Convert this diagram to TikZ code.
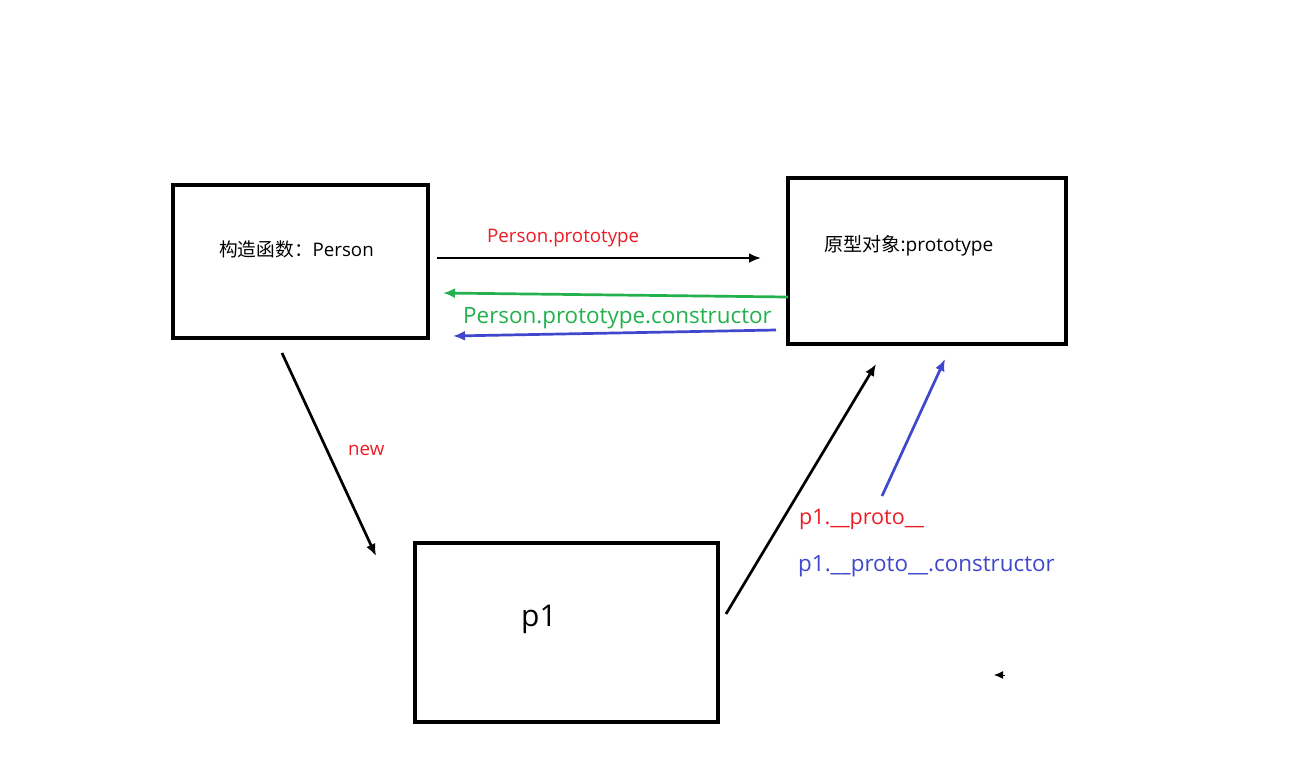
\documentclass[tikz,border=0pt]{standalone}
\usepackage{fontspec}
\setmainfont{Open Sans}
\newfontfamily\cjk{Noto Sans CJK SC}
\usetikzlibrary{positioning,arrows.meta,calc}

\definecolor{pred}{RGB}{237,28,36}
\definecolor{pgreen}{RGB}{34,177,76}
\definecolor{pblue}{RGB}{63,72,204}

\tikzset{
  objbox/.style={draw, line width=4pt, inner sep=0pt},
  link/.style={line width=2.7pt, -{Latex[length=12pt,width=10pt]}},
  smalltxt/.style={font=\fontsize{18.7}{22}\selectfont, inner sep=0pt, anchor=west},
  bigtxt/.style={font=\fontsize{22.4}{26}\selectfont, inner sep=0pt, anchor=west}
}

\begin{document}
\begin{tikzpicture}[x=1pt, y=-1pt]
  \useasboundingbox[fill=white] (0,0) rectangle (1302,777);

  % the three objects
  \node[objbox, minimum width=255pt, minimum height=153pt] (ctor) at (300.5,261.5) {};
  \node[objbox, minimum width=278pt, minimum height=166pt] (proto) at (927,261) {};
  \node[objbox, minimum width=303pt, minimum height=179pt] (inst) at (566.5,632.5) {};

  % texts in the boxes
  \node[smalltxt] (ctorname) at (219,249.5) {{\cjk 构造函数：}Person};
  \node[smalltxt, font=\fontsize{19.1}{22}\selectfont] (protoname) at (824,246) {{\cjk 原型对象}:prototype};
  \node[smalltxt, font=\fontsize{30}{34}\selectfont] (instname) at (521,619.5) {p1};

  % end points of the links
  \coordinate (ptS) at (437,258);   \coordinate (ptE) at (761,258);
  \coordinate (pcS) at (788,297);   \coordinate (pcE) at (443,293);
  \coordinate (icS) at (776,330);   \coordinate (icE) at (453,336);
  \coordinate (newS) at (282,353);  \coordinate (newE) at (376,556);
  \coordinate (ipS) at (726,614);   \coordinate (ipE) at (876,364);
  \coordinate (iqS) at (882,496);   \coordinate (iqE) at (945,359);
  \coordinate (tipS) at (1005,675); \coordinate (tipE) at (994,675);

  % links
  \draw[link] (ptS) -- (ptE);
  \draw[link, pgreen] (pcS) -- (pcE);
  \draw[link, pblue] (icS) -- (icE);
  \draw[link] (newS) -- (newE);
  \draw[link] (ipS) -- (ipE);
  \draw[link, pblue] (iqS) -- (iqE);
  \draw[line width=1pt, -{Latex[length=9pt,width=8pt]}] (tipS) -- (tipE);

  % link labels
  \node[smalltxt, pred] (ptlabel) at (487,238.5) {Person.prototype};
  \node[bigtxt, pgreen] (pclabel) at (463,318.5) {Person.prototype.constructor};
  \node[smalltxt, pred] (newlabel) at (348,450) {new};
  \node[bigtxt, pred, font=\fontsize{21.5}{25}\selectfont] (iplabel) at (799,519) {p1.\_\_proto\_\_};
  \node[bigtxt, pblue] (iqlabel) at (798,566.5) {p1.\_\_proto\_\_.constructor};
\end{tikzpicture}
\end{document}
